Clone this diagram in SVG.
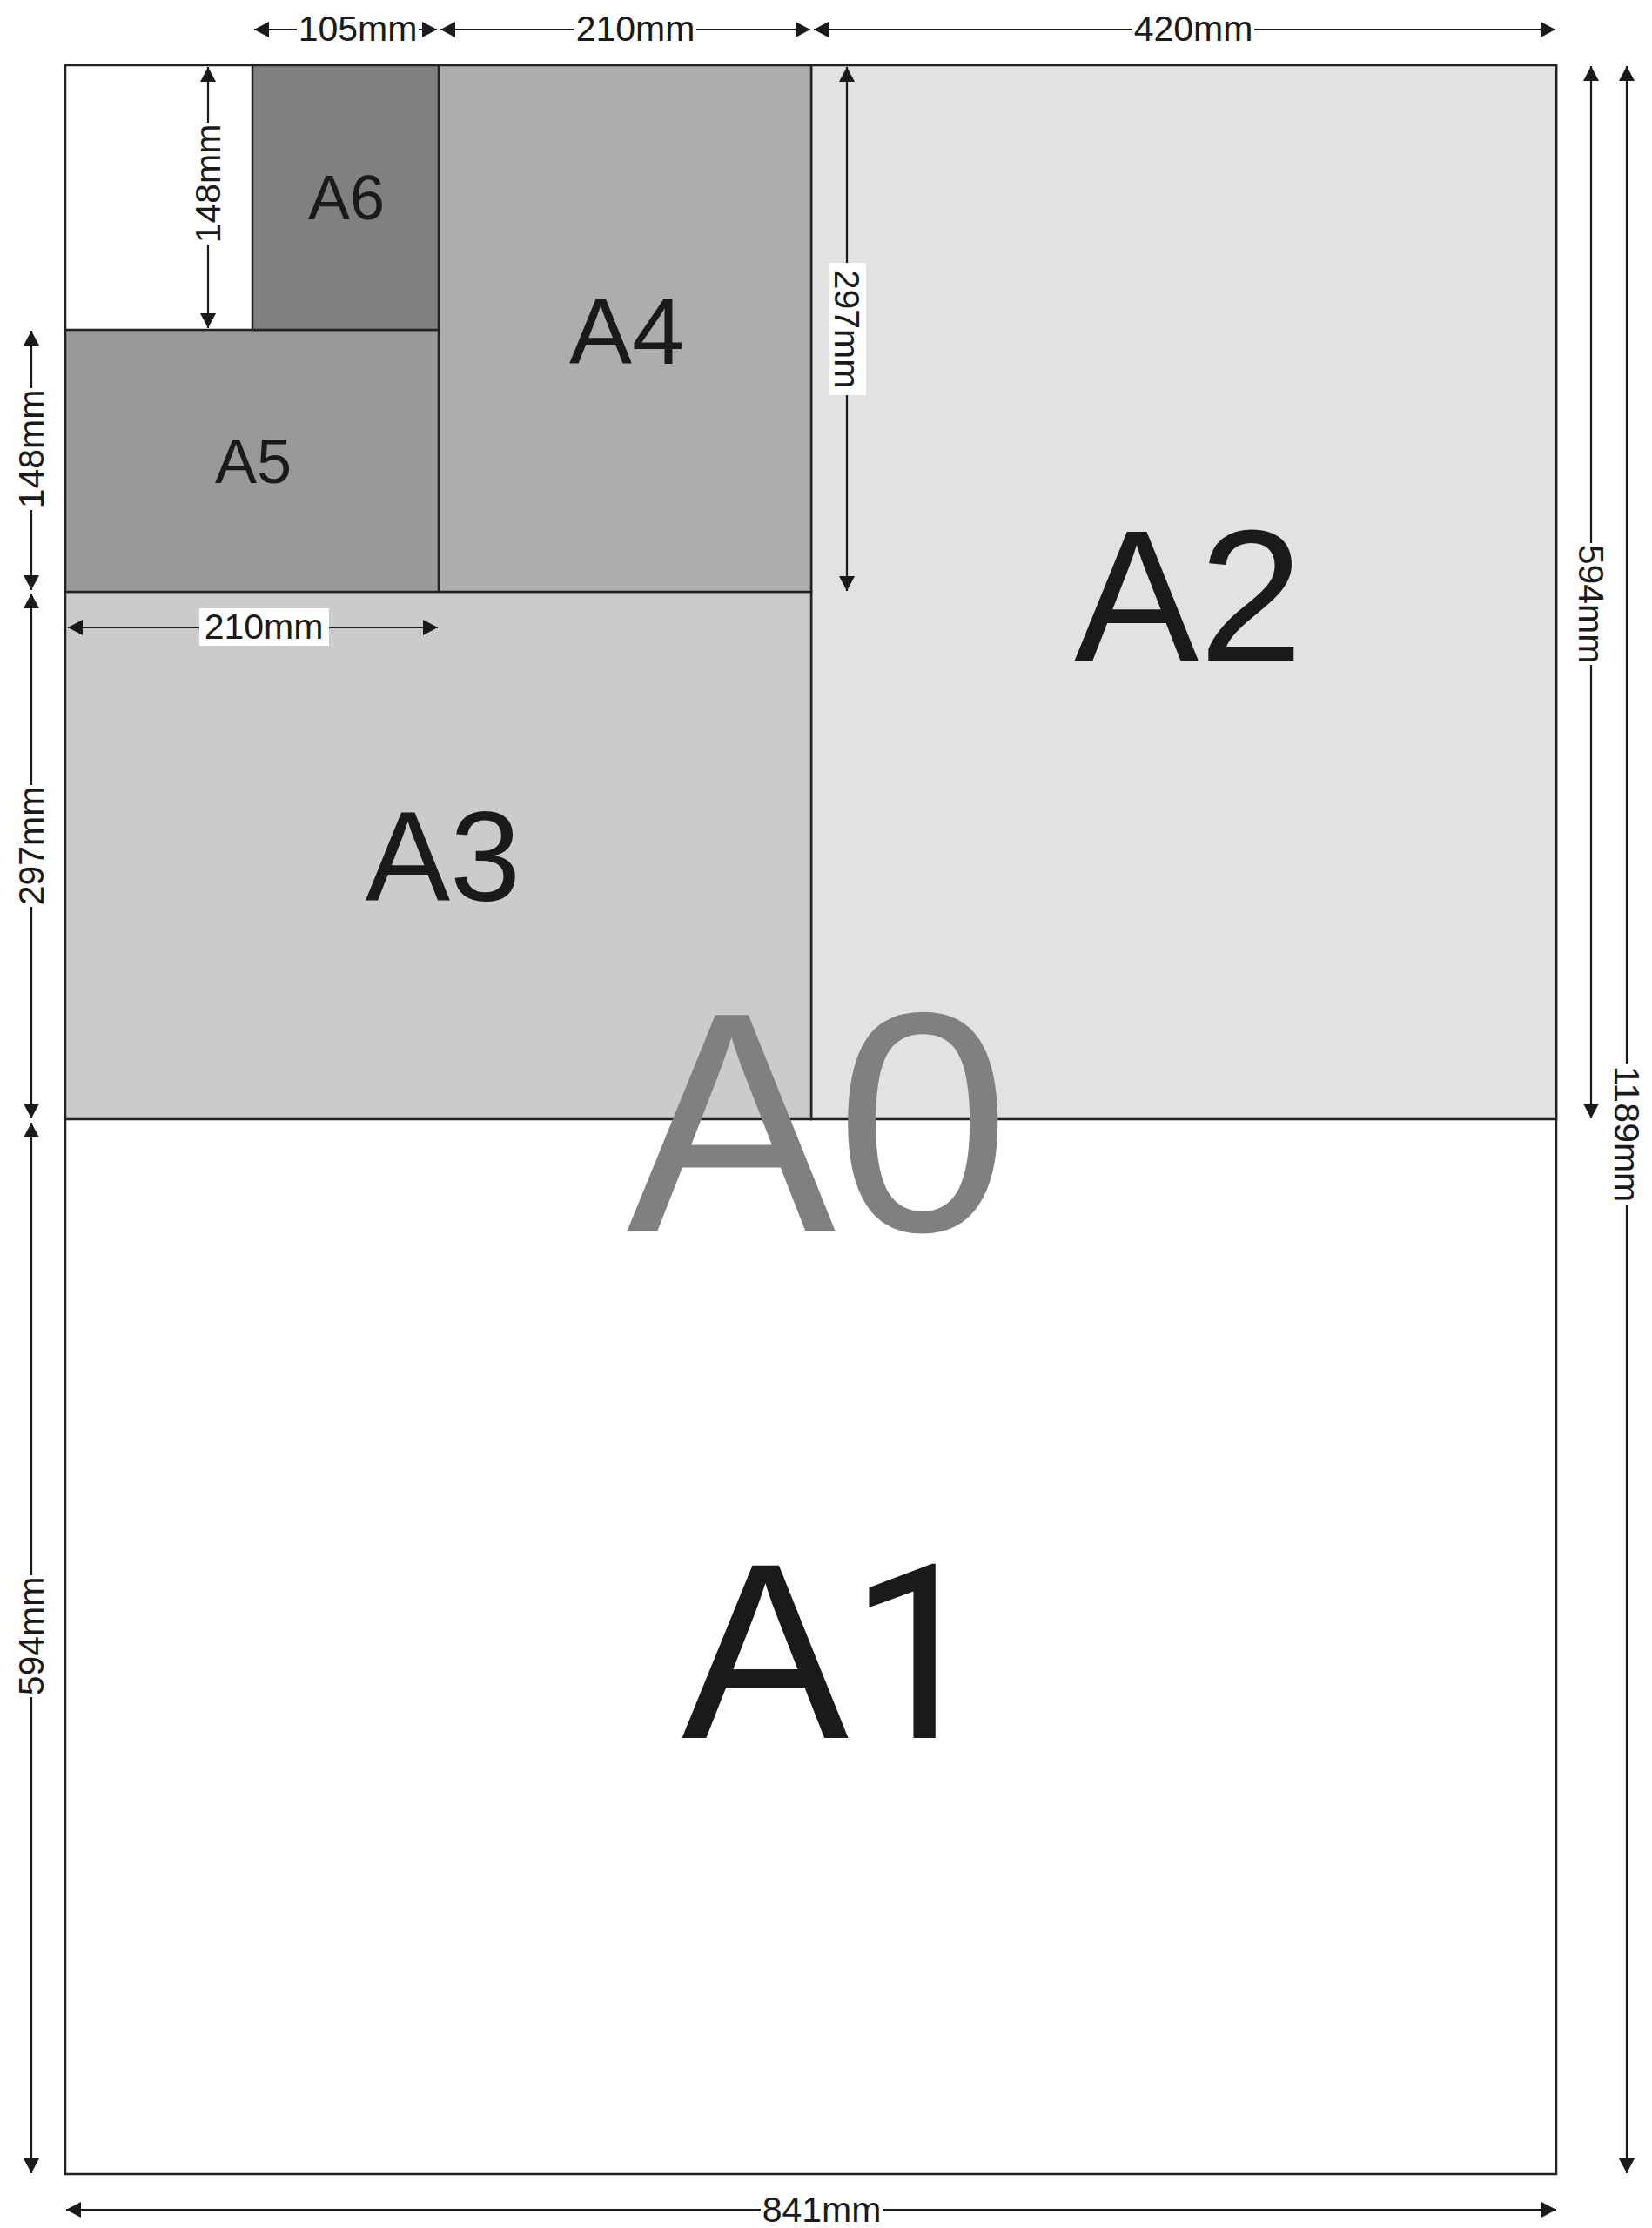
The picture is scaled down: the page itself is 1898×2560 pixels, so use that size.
<svg xmlns="http://www.w3.org/2000/svg" width="1898" height="2560" viewBox="0 0 1898 2560">
<defs>
<style>
.sheet{stroke:#222;stroke-width:2.5}
.big{font-family:"Liberation Sans",Arial,sans-serif;fill:#1a1a1a}
.dim{font-family:"Liberation Sans",Arial,sans-serif;font-size:41px;fill:#1a1a1a;text-anchor:middle}
.vdim{font-family:"Liberation Sans",Arial,sans-serif;font-size:41px;fill:#1a1a1a;text-anchor:middle;dominant-baseline:central}
.dl{stroke:#1a1a1a;stroke-width:2.2;fill:none;marker-start:url(#ah);marker-end:url(#ah)}
.bg{fill:#ffffff}
</style>
<marker id="ah" markerUnits="userSpaceOnUse" markerWidth="18" markerHeight="18" refX="17" refY="9" orient="auto-start-reverse">
<path d="M0,0 L17,9 L0,18 z" fill="#1a1a1a"/>
</marker>
</defs>
<rect width="1898" height="2560" fill="#ffffff"/>
<g id="A0">
<rect class="sheet" x="75" y="75" width="1713" height="2423" fill="#ffffff"/>
</g>
<g id="A1">
<text class="big" x="783" y="1997" font-size="288">A<tspan font-family="Roboto, sans-serif" font-size="280">1</tspan></text>
</g>
<g id="A2">
<rect class="sheet" x="932" y="75" width="856" height="1211" fill="#e2e2e2"/>
<text class="big" x="1234" y="759" font-size="215">A2</text>
</g>
<g id="A3">
<rect class="sheet" x="75" y="680" width="857" height="606" fill="#cbcbcb"/>
<text class="big" x="509" y="1035" font-size="146" text-anchor="middle">A3</text>
</g>
<g id="A4">
<rect class="sheet" x="504" y="75" width="428" height="605" fill="#adadad"/>
<text class="big" x="720" y="418" font-size="108" text-anchor="middle">A4</text>
</g>
<g id="A5">
<rect class="sheet" x="75" y="379" width="429" height="301" fill="#999999"/>
<text class="big" x="291" y="555" font-size="72" text-anchor="middle">A5</text>
</g>
<g id="A6">
<rect class="sheet" x="290" y="75" width="214" height="304" fill="#808080"/>
<text class="big" x="398" y="252" font-size="72" text-anchor="middle">A6</text>
</g>
<g id="A0-label">
<text x="720" y="1414" font-family="Liberation Sans, Arial, sans-serif" font-size="360" fill="#808080">A0</text>
</g>
<g id="connectors">
<line class="dl" x1="292" y1="34" x2="502" y2="34"/>
<line class="dl" x1="506" y1="34" x2="931" y2="34"/>
<line class="dl" x1="935" y1="34" x2="1787" y2="34"/>
<line class="dl" x1="1828" y1="76" x2="1828" y2="1285"/>
<line class="dl" x1="1869" y1="76" x2="1869" y2="2497"/>
<line class="dl" x1="76" y1="2539" x2="1788" y2="2539"/>
<line class="dl" x1="36" y1="380" x2="36" y2="678"/>
<line class="dl" x1="36" y1="682" x2="36" y2="1285"/>
<line class="dl" x1="36" y1="1290" x2="36" y2="2497"/>
<line class="dl" x1="239" y1="77" x2="239" y2="377"/>
<line class="dl" x1="973" y1="77" x2="973" y2="679"/>
<line class="dl" x1="78" y1="721" x2="503" y2="721"/>
</g>
<g id="labels">
<rect class="bg" x="341" y="12" width="140" height="42"/>
<text class="dim" x="411" y="47">105mm</text>
<rect class="bg" x="660" y="12" width="140" height="42"/>
<text class="dim" x="730" y="47">210mm</text>
<rect class="bg" x="1301" y="12" width="140" height="42"/>
<text class="dim" x="1371" y="47">420mm</text>
<rect class="bg" x="874" y="2518" width="140" height="42"/>
<text class="dim" x="944" y="2553">841mm</text>
<rect class="bg" x="229" y="699" width="149" height="43"/>
<text class="dim" x="303" y="734">210mm</text>

<rect class="bg" x="217" y="141" width="44" height="140"/>
<text class="vdim" transform="translate(239,211) rotate(-90)">148mm</text>
<rect class="bg" x="14" y="446" width="44" height="140"/>
<text class="vdim" transform="translate(36,516) rotate(-90)">148mm</text>
<rect class="bg" x="14" y="902" width="44" height="140"/>
<text class="vdim" transform="translate(36,972) rotate(-90)">297mm</text>
<rect class="bg" x="14" y="1810" width="44" height="140"/>
<text class="vdim" transform="translate(36,1880) rotate(-90)">594mm</text>

<rect class="bg" x="952" y="302" width="43" height="152"/>
<text class="vdim" transform="translate(973,378) rotate(90)">297mm</text>
<rect class="bg" x="1806" y="624" width="44" height="140"/>
<text class="vdim" transform="translate(1828,694) rotate(90)">594mm</text>
<rect class="bg" x="1847" y="1222" width="44" height="162"/>
<text class="vdim" transform="translate(1869,1303) rotate(90)">1189mm</text>
</g>
</svg>
